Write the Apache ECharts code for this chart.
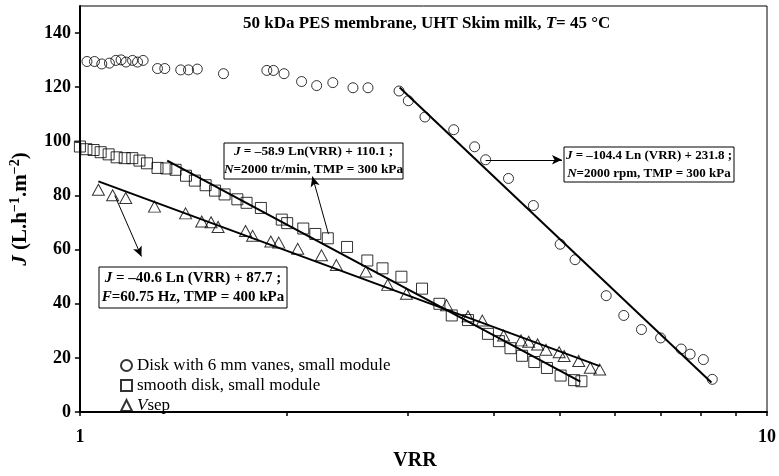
<!DOCTYPE html>
<html>
<head>
<meta charset="utf-8">
<script src="https://cdn.jsdelivr.net/npm/echarts@6/dist/echarts.min.js"></script>
<style>
  html, body { margin: 0; padding: 0; background: #fff; }
  #chart { width: 779px; height: 476px; }
</style>
</head>
<body>
<div id="chart"></div>
<script>
// Permeate flux J versus volume reduction ratio (VRR), three filtration set-ups
const vrrDisk = [1.024, 1.050, 1.076, 1.104, 1.128, 1.148, 1.167, 1.193, 1.213, 1.236,
  1.297, 1.329, 1.402, 1.439, 1.482, 1.618, 1.871, 1.913, 1.982, 2.102, 2.211, 2.334,
  2.497, 2.626, 2.914, 3.006, 3.178, 3.500, 3.754, 3.895, 4.205, 4.571, 5.000, 5.256,
  5.834, 6.188, 6.566, 7.001, 7.501, 7.729, 8.080, 8.325];
const jDisk = [129.5, 129.5, 128.6, 128.9, 129.9, 130.1, 129.3, 129.9, 129.3, 129.9,
  126.9, 126.9, 126.4, 126.4, 126.7, 125.0, 126.2, 126.2, 125.0, 122.1, 120.6, 121.7,
  119.8, 119.8, 118.6, 115.0, 109.0, 104.3, 98.0, 93.2, 86.3, 76.3, 62.0, 56.3,
  43.0, 35.7, 30.5, 27.4, 23.3, 21.4, 19.4, 12.1];

const vrrSmooth = [1.000, 1.022, 1.047, 1.072, 1.101, 1.131, 1.162, 1.192, 1.221, 1.252,
  1.297, 1.336, 1.378, 1.427, 1.470, 1.524, 1.573, 1.624, 1.695, 1.748, 1.834, 1.967,
  2.003, 2.114, 2.201, 2.295, 2.448, 2.620, 2.757, 2.937, 3.147, 3.336, 3.477, 3.672,
  3.925, 4.072, 4.233, 4.401, 4.585, 4.783, 5.008, 5.240, 5.369];
const jSmooth = [98.1, 97.1, 96.8, 96.0, 95.2, 94.1, 93.8, 93.8, 92.9, 91.9,
  90.2, 90.0, 89.5, 87.3, 85.5, 83.8, 81.8, 80.4, 78.6, 77.3, 75.4, 71.1,
  69.8, 67.8, 65.8, 64.2, 61.0, 56.0, 53.1, 50.0, 45.6, 40.0, 35.7, 34.0,
  28.9, 26.2, 23.6, 20.8, 18.5, 16.3, 13.5, 11.8, 11.4];

const vrrVsep = [1.064, 1.116, 1.166, 1.284, 1.425, 1.504, 1.552, 1.589, 1.742, 1.784,
  1.896, 1.947, 2.075, 2.247, 2.362, 2.607, 2.805, 2.987, 3.417, 3.672, 3.852, 4.136,
  4.386, 4.499, 4.636, 4.768, 4.983, 5.067, 5.321, 5.531, 5.709];
const jVsep = [82.1, 80.1, 79.1, 75.9, 73.4, 70.4, 70.1, 68.4, 66.9, 65.1,
  63.0, 62.6, 60.3, 57.9, 54.3, 51.9, 47.0, 43.7, 39.5, 35.4, 33.8, 28.3,
  26.5, 26.0, 25.0, 23.0, 22.1, 20.7, 18.9, 16.4, 15.7];

// Logarithmic fits (straight on a log VRR axis): end points of each fitted segment
const fitDiskVrr = [2.92, 8.30],   fitDiskJ = [119.9, 10.9];    // J = -104.4 Ln(VRR) + 231.8
const fitSmoothVrr = [1.34, 5.35], fitSmoothJ = [92.9, 11.3];   // J = -58.9 Ln(VRR) + 110.1
const fitVsepVrr = [1.064, 5.71],  fitVsepJ = [85.2, 17.0];     // J = -40.6 Ln(VRR) + 87.7

// Callout arrows: [from VRR, from J, to VRR, to J]
const arrowSmooth = [2.30, 65.8, 2.18, 87.0];
const arrowDisk = [3.895, 93.2, 5.03, 93.2];
const arrowVsep = [1.124, 80.0, 1.229, 57.5];

// Axis ticks
const xTickValues = [1, 2, 3, 4, 5, 6, 7, 8, 9, 10];
const xLabelValues = [1, 10];
const yTickValues = [0, 20, 40, 60, 80, 100, 120, 140];

const seriesNames = ['Disk with 6 mm vanes, small module', 'smooth disk, small module', 'Vsep'];

const SERIF = 'Liberation Serif, Times New Roman, serif';
const zip = (xs, ys) => xs.map((x, i) => [x, ys[i]]);

const hollow = { color: 'transparent', borderColor: '#000', borderWidth: 1 };
const fitStyle = { color: '#000', width: 2 };

function fitSeries(xs, ys) {
  return {
    type: 'line', data: zip(xs, ys), showSymbol: false, silent: true,
    lineStyle: fitStyle, z: 1
  };
}

function arrowPair(a) {
  return [{ coord: [a[0], a[1]] }, { coord: [a[2], a[3]] }];
}

const boldRich = (size) => ({
  i: { fontFamily: SERIF, fontSize: size, fontWeight: 'bold', fontStyle: 'italic', fill: '#000', color: '#000' }
});

function calloutBox(x, y, w, h, size, lineH, text) {
  return {
    type: 'group',
    children: [
      { type: 'rect', shape: { x: x, y: y, width: w, height: h },
        style: { fill: '#fff', stroke: '#000', lineWidth: 1 }, z: 5 },
      { type: 'text', x: x + w / 2, y: y + h / 2, z: 6,
        style: {
          text: text, align: 'center', verticalAlign: 'middle',
          fontFamily: SERIF, fontSize: size, fontWeight: 'bold', lineHeight: lineH,
          fill: '#000', rich: boldRich(size)
        } }
    ]
  };
}

const chart = echarts.init(document.getElementById('chart'), null, { renderer: 'canvas' });

chart.setOption({
  animation: false,
  backgroundColor: '#fff',
  title: {
    text: '50 kDa PES membrane, UHT Skim milk, {i|T}= 45 °C',
    left: 243, top: 15, padding: 0,
    textStyle: {
      fontFamily: SERIF, fontSize: 17, fontWeight: 'bold', color: '#000',
      rich: { i: { fontFamily: SERIF, fontSize: 17, fontWeight: 'bold', fontStyle: 'italic', color: '#000' } }
    }
  },
  legend: {
    data: seriesNames,
    orient: 'vertical', left: 120, top: 357, padding: 0,
    itemWidth: 11, itemHeight: 11, itemGap: 3,
    selectedMode: false,
    formatter: (name) => name === 'Vsep' ? '{i|V}sep' : name,
    textStyle: {
      fontFamily: SERIF, fontSize: 17, color: '#000',
      rich: { i: { fontFamily: SERIF, fontSize: 17, fontStyle: 'italic', color: '#000' } }
    }
  },
  grid: {
    left: 78, right: 10, top: 6, bottom: 50,
    show: true, borderColor: '#000', borderWidth: 1, backgroundColor: 'transparent'
  },
  xAxis: {
    type: 'log', logBase: 10, min: 1, max: 10,
    name: 'VRR', nameLocation: 'middle', nameGap: 31,
    nameTextStyle: { fontFamily: SERIF, fontSize: 20, fontWeight: 'bold', color: '#000', padding: [0, 17, 0, 0] },
    axisLine: { show: true, onZero: false, lineStyle: { color: '#000', width: 2 } },
    axisTick: { show: true, length: 4, customValues: xTickValues, lineStyle: { color: '#000', width: 1.5 } },
    minorTick: { show: false },
    axisLabel: { customValues: xLabelValues, margin: 16, fontFamily: SERIF, fontSize: 18, fontWeight: 'bold', color: '#000' },
    splitLine: { show: false }
  },
  yAxis: {
    type: 'value', min: 0, max: 150, interval: 20,
    name: '{i|J} (L.h{s|−1}.m{s|−2})', nameLocation: 'middle', nameRotate: 90, nameGap: 46,
    nameTextStyle: {
      fontFamily: SERIF, fontSize: 21, fontWeight: 'bold', color: '#000', lineHeight: 25,
      rich: {
        i: { fontFamily: SERIF, fontSize: 21, fontWeight: 'bold', fontStyle: 'italic', color: '#000', lineHeight: 25 },
        s: { fontFamily: SERIF, fontSize: 14, fontWeight: 'bold', color: '#000', lineHeight: 15, verticalAlign: 'top' }
      }
    },
    axisLine: { show: true, lineStyle: { color: '#000', width: 2 } },
    axisTick: { show: true, length: 5, customValues: yTickValues, lineStyle: { color: '#000', width: 1.5 } },
    axisLabel: { customValues: yTickValues, margin: 9, fontFamily: SERIF, fontSize: 18, fontWeight: 'bold', color: '#000' },
    splitLine: { show: false }
  },
  graphic: [
    calloutBox(224, 143, 179, 36, 13.3, 18,
      '{i|J} = –58.9 Ln(VRR) + 110.1 ;\n{i|N}=2000 tr/min, TMP = 300 kPa'),
    calloutBox(564, 147, 170, 35, 13, 18.5,
      '{i|J} = –104.4 Ln (VRR) + 231.8 ;\n{i|N}=2000 rpm, TMP = 300 kPa'),
    calloutBox(99, 267, 188, 41, 15, 18.4,
      '{i|J} = –40.6 Ln (VRR) + 87.7 ;\n{i|F}=60.75 Hz, TMP = 400 kPa')
  ],
  series: [
    fitSeries(fitDiskVrr, fitDiskJ),
    fitSeries(fitSmoothVrr, fitSmoothJ),
    fitSeries(fitVsepVrr, fitVsepJ),
    {
      type: 'line', data: [], silent: true, z: 3,
      markLine: {
        silent: true, animation: false,
        symbol: ['none', 'arrow'], symbolSize: [7, 10],
        lineStyle: { color: '#000', width: 1, type: 'solid' },
        label: { show: false },
        emphasis: { disabled: true },
        data: [arrowPair(arrowSmooth), arrowPair(arrowDisk), arrowPair(arrowVsep)]
      }
    },
    {
      name: seriesNames[0], type: 'scatter', symbol: 'circle', symbolSize: 10,
      data: zip(vrrDisk, jDisk), itemStyle: hollow, z: 4
    },
    {
      name: seriesNames[1], type: 'scatter', symbol: 'rect', symbolSize: 11,
      data: zip(vrrSmooth, jSmooth), itemStyle: hollow, z: 4
    },
    {
      name: seriesNames[2], type: 'scatter', symbol: 'triangle', symbolSize: [12, 11],
      data: zip(vrrVsep, jVsep), itemStyle: hollow, z: 4
    }
  ]
});
</script>
</body>
</html>
